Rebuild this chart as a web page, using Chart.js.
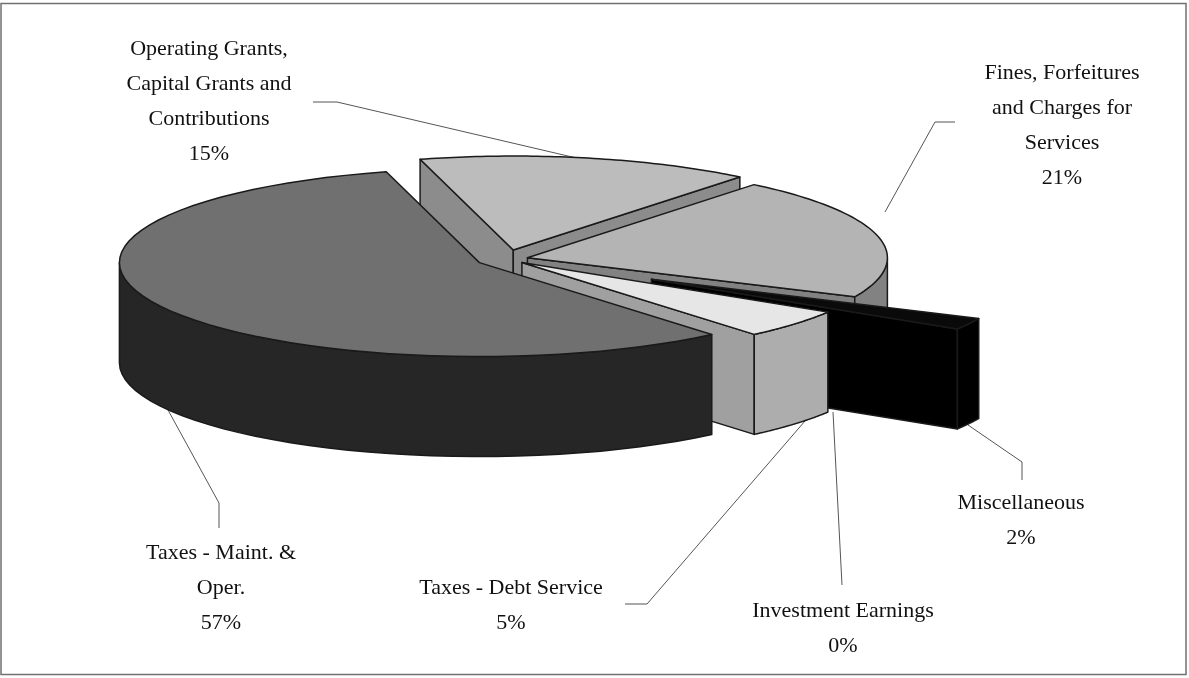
<!DOCTYPE html>
<html>
<head>
<meta charset="utf-8">
<script src="https://cdn.jsdelivr.net/npm/chart.js@4/dist/chart.umd.js"></script>
<style>
html, body { margin: 0; padding: 0; background: #fff; }
canvas { display: block; }
</style>
</head>
<body>
<canvas id="myChart" width="1189" height="678"></canvas>
<script>
// clockwise from the back of the pie
var categories = ["Operating Grants, Capital Grants and Contributions", "Fines, Forfeitures and Charges for Services", "Miscellaneous", "Investment Earnings", "Taxes - Debt Service", "Taxes - Maint. & Oper."];
var percents = [15, 21, 2, 0, 5, 57];

var labelLines = [
    ["Operating Grants,", "Capital Grants and", "Contributions"],
    ["Fines, Forfeitures", "and Charges for", "Services"],
    ["Miscellaneous"],
    ["Investment Earnings"],
    ["Taxes - Debt Service"],
    ["Taxes - Maint. &", "Oper."]
];

// look of the slices
var topColors = ["#bcbcbc", "#b4b4b4", "#0a0a0a", "#000000", "#e6e6e6", "#707070"];
var sideColors = ["#8c8c8c", "#828282", "#000000", "#000000", "#a0a0a0", "#262626"];
var arcColors = ["#8c8c8c", "#828282", "#000000", "#000000", "#adadad", "#262626"];
var explode = [35, 22, 165, 0, 21, 30];
var drawOrder = [0, 1, 2, 4, 5];

// where the labels sit: centre x, first line y
var labelX = [209, 1062, 1021, 843, 511, 221];
var labelY = [49, 73, 503, 611, 588, 553];
var lineGap = 35;

var leaders = [
    [[313, 102], [337, 102], [585, 160]],
    [[955, 122], [935, 122], [885, 212]],
    [[968, 425], [1022, 462], [1022, 480]],
    [[833, 412], [842, 585]],
    [[625, 604], [647, 604], [805, 421]],
    [[168, 410], [219, 503], [219, 528]]
];

var pieX = 506, pieY = 259, radiusX = 360, radiusY = 94, depth = 100;

function angleFromTop(rad) {
    return rad + Math.PI / 2;
}

var pie3d = {
    id: "pie3d",
    beforeDatasetDraw: function() {
        // the plugin below paints the arcs itself, squashed and extruded
        return false;
    },
    afterDatasetsDraw: function(chart) {
        var ctx = chart.ctx;
        var arcs = chart.getDatasetMeta(0).data;

        // frame
        ctx.save();
        ctx.strokeStyle = "#707070";
        ctx.lineWidth = 1.5;
        ctx.strokeRect(1, 3.5, 1185, 671);
        ctx.restore();

        // leader lines go under the pie
        ctx.save();
        ctx.strokeStyle = "#555555";
        ctx.lineWidth = 1;
        leaders.forEach(function(pts) {
            ctx.beginPath();
            pts.forEach(function(p, i) {
                if (i == 0) ctx.moveTo(p[0], p[1]); else ctx.lineTo(p[0], p[1]);
            });
            ctx.stroke();
        });
        ctx.restore();

        drawOrder.forEach(function(i) {
            drawSlice(ctx, arcs[i], i);
        });

        ctx.save();
        ctx.fillStyle = "#111111";
        ctx.font = "22px 'Liberation Serif'";
        ctx.textAlign = "center";
        ctx.textBaseline = "middle";
        categories.forEach(function(c, i) {
            var lines = labelLines[i].concat([percents[i] + "%"]);
            lines.forEach(function(t, j) {
                ctx.fillText(t, labelX[i], labelY[i] + j * lineGap);
            });
        });
        ctx.restore();
    }
};

function drawSlice(ctx, arc, i) {
    var a0 = arc.startAngle, a1 = arc.endAngle;
    var mid = (a0 + a1) / 2;
    var cx = pieX + Math.cos(mid) * explode[i];
    var cy = pieY + Math.sin(mid) * explode[i] * radiusY / radiusX;

    function pt(a, down) {
        return [cx + Math.cos(a) * radiusX, cy + Math.sin(a) * radiusY + (down ? depth : 0)];
    }

    function face(points, fill) {
        ctx.beginPath();
        points.forEach(function(p, k) {
            if (k == 0) ctx.moveTo(p[0], p[1]); else ctx.lineTo(p[0], p[1]);
        });
        ctx.closePath();
        ctx.fillStyle = fill;
        ctx.fill();
        ctx.stroke();
    }

    ctx.save();
    ctx.strokeStyle = "#1a1a1a";
    ctx.lineWidth = 1.5;
    ctx.lineJoin = "round";

    // cut faces, only those turned to the viewer
    if (Math.sin(a0 - Math.PI / 2) > 0) {
        face([[cx, cy], pt(a0), pt(a0, true), [cx, cy + depth]], sideColors[i]);
    }
    if (Math.sin(a1 + Math.PI / 2) > 0) {
        face([[cx, cy], pt(a1), pt(a1, true), [cx, cy + depth]], sideColors[i]);
    }

    // rim, front half only
    var from = a0, to = a1, steps = 60, upper = [], lower = [];
    for (var s = 0; s <= steps; s++) {
        var a = from + (to - from) * s / steps;
        if (Math.sin(a) >= 0) {
            upper.push(pt(a));
            lower.unshift(pt(a, true));
        }
    }
    if (upper.length > 1) {
        face(upper.concat(lower), arcColors[i]);
    }

    // top surface through the library's own arc element
    var sx = radiusX / arc.outerRadius, sy = radiusY / arc.outerRadius;
    ctx.save();
    ctx.translate(cx, cy);
    ctx.scale(sx, sy);
    ctx.translate(-arc.x, -arc.y);
    arc.draw(ctx);
    ctx.restore();

    // outline of the top
    ctx.beginPath();
    ctx.moveTo(cx, cy);
    for (var q = 0; q <= steps; q++) {
        var b = pt(a0 + (a1 - a0) * q / steps);
        ctx.lineTo(b[0], b[1]);
    }
    ctx.closePath();
    ctx.stroke();
    ctx.restore();
}

var myChart = new Chart(document.getElementById("myChart").getContext("2d"), {
    type: "pie",
    data: {
        labels: categories,
        datasets: [{
            data: percents,
            backgroundColor: topColors,
            borderWidth: 0
        }]
    },
    options: {
        responsive: false,
        animation: false,
        rotation: -15,
        layout: { padding: 0 },
        plugins: {
            legend: { display: false },
            tooltip: { enabled: false }
        }
    },
    plugins: [pie3d]
});
</script>
</body>
</html>
